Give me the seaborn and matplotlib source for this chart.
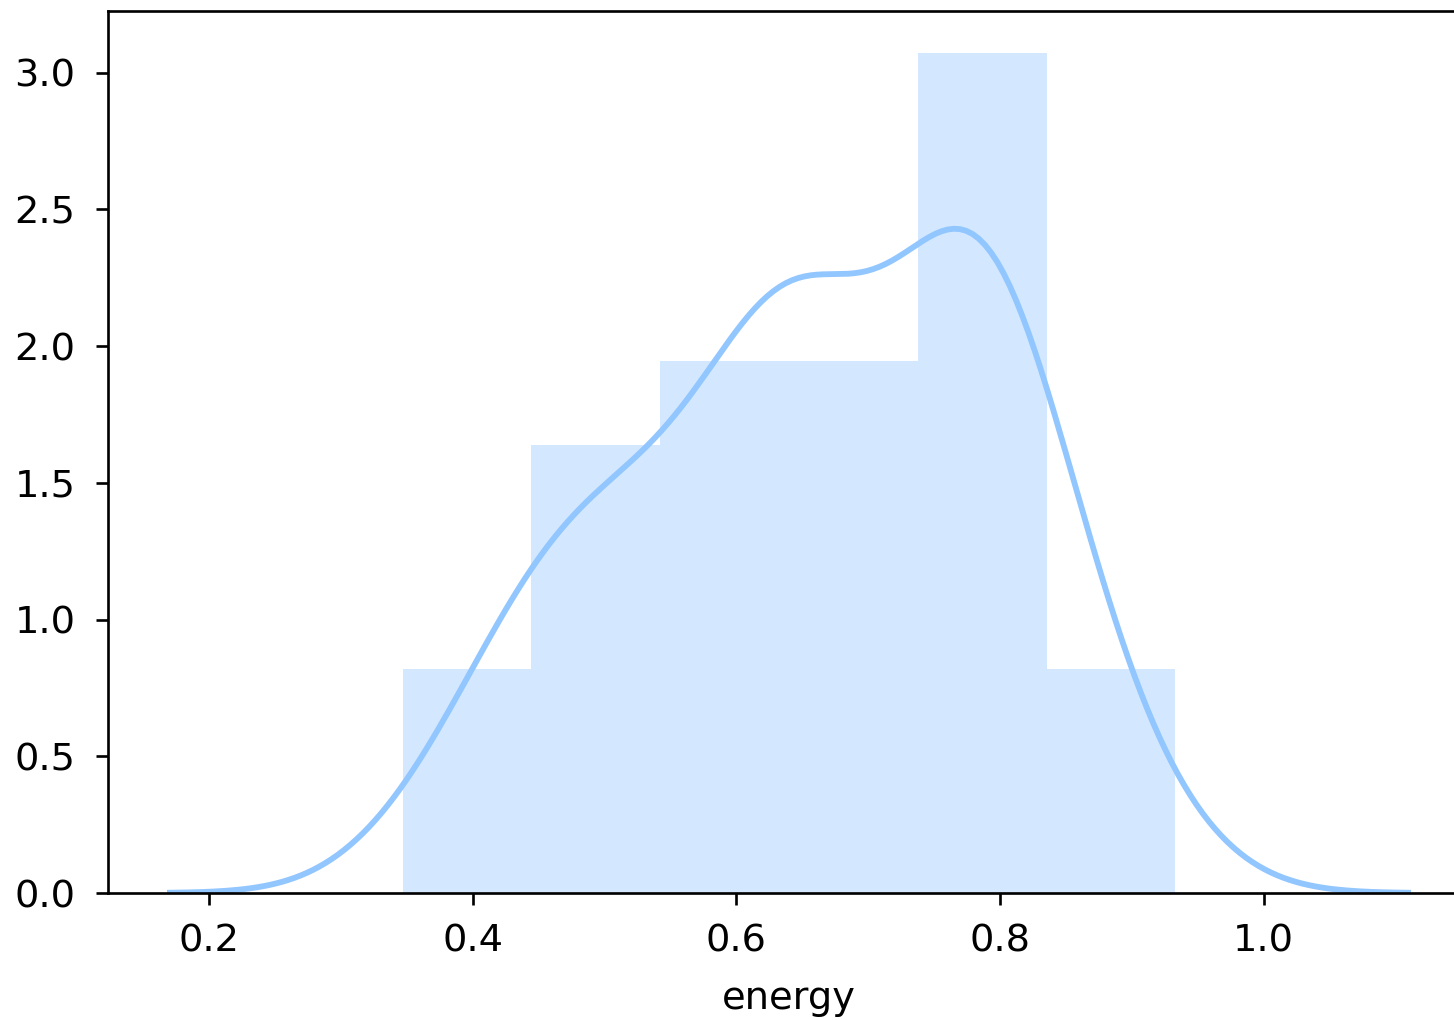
import matplotlib
matplotlib.use("Agg")
import matplotlib.pyplot as plt
import seaborn as sns
import pandas as pd

# energy values of the 100 tracks (estimated from the histogram / kde)
energy = [
    0.347, 0.372, 0.395, 0.408, 0.418, 0.427, 0.436, 0.442,
    0.447, 0.452, 0.458, 0.466, 0.473, 0.481, 0.488, 0.495,
    0.502, 0.509, 0.515, 0.521, 0.527, 0.532, 0.537, 0.541,
    0.546, 0.554, 0.563, 0.571, 0.579, 0.587, 0.594, 0.601, 0.606, 0.612,
    0.616, 0.620, 0.624, 0.628, 0.631, 0.633, 0.635, 0.637, 0.638,
    0.641, 0.643, 0.646, 0.649, 0.652, 0.655, 0.658, 0.661, 0.665, 0.669,
    0.674, 0.680, 0.687, 0.695, 0.704, 0.713, 0.722, 0.729, 0.735,
    0.740, 0.744, 0.748, 0.752, 0.756, 0.759, 0.762, 0.765, 0.768, 0.771,
    0.773, 0.776, 0.778, 0.780, 0.782, 0.785, 0.787, 0.790, 0.792, 0.795,
    0.798, 0.801, 0.804, 0.807, 0.810, 0.814, 0.818, 0.823, 0.828, 0.834,
    0.840, 0.847, 0.855, 0.864, 0.874, 0.886, 0.903, 0.933,
]

df = pd.DataFrame({'energy': energy})
col = "#92C6FF"

plt.rcParams['font.size'] = 11.5
plt.rcParams['xtick.major.pad'] = 5.5
plt.rcParams['ytick.major.pad'] = 6.3

fig = plt.figure(figsize=(1454 / 240, 1020 / 240), dpi=240)
ax = fig.add_axes([108 / 1454, 127 / 1020, (1470 - 108) / 1454, (893 - 11) / 1020])

sns.histplot(data=df, x='energy', bins=6, stat='density', color=col,
             alpha=0.4, linewidth=0, ax=ax)
# statsmodels-style scott bandwidth (1.059 * sigma * n^-1/5), cut=3
sns.kdeplot(data=df, x='energy', color=col, linewidth=1.75, bw_adjust=1.059,
            ax=ax)

ax.set_ylabel('')
ax.set_xlabel('energy', labelpad=6.5)
ax.set_xticks([0.2, 0.4, 0.6, 0.8, 1.0])

fig.savefig('out.png', dpi=240)
